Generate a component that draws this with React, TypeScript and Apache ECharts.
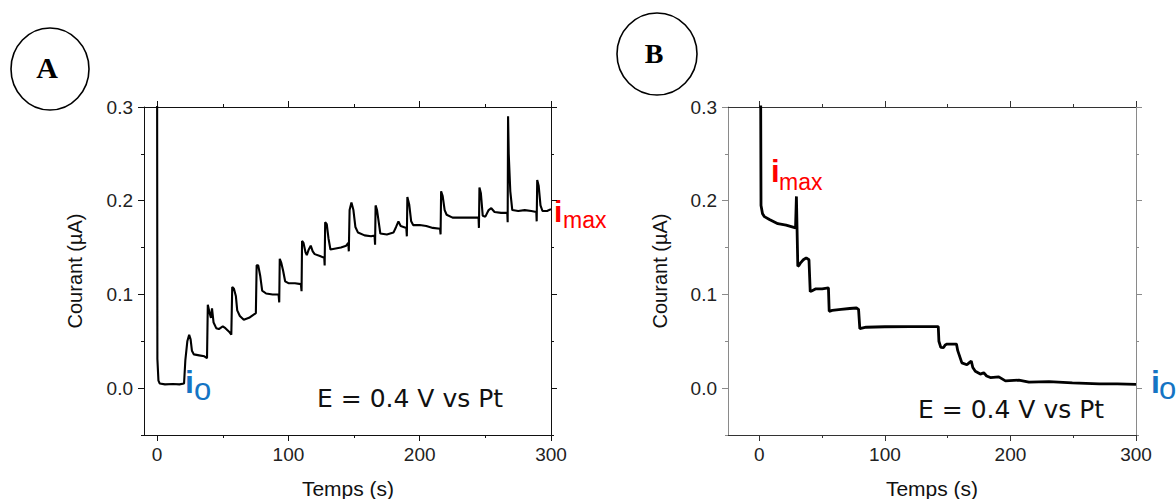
import React, { useEffect, useRef } from "react";
import * as echarts from "echarts";

// Panel A: current vs time (s), step increases
const timeA = [
  0, 0.2, 1, 2, 6, 12, 17, 20.5, 21.5, 23, 24.4, 25.5, 26.5, 28, 32, 36, 38, 38.6, 40, 41, 41.8, 43, 45, 47, 50, 52,
  55, 56.5, 57.2, 58.5, 60, 61, 63, 66, 70, 73, 75.2, 75.8, 77, 78.5, 80, 83, 88, 92.5, 93, 93.4, 94.5, 96, 97.5, 100,
  105, 109.5, 110, 110.4, 111.5, 113, 114, 115.5, 117, 118.5, 120, 124, 127.3, 127.6, 128, 129.2, 130.5, 132, 136, 140,
  144, 145.6, 146, 146.6, 148, 149.5, 151, 153, 158, 163, 165.6, 166, 166.4, 167.5, 169, 170, 175, 180, 182, 183.8,
  185.5, 189.8, 190.2, 190.6, 192, 193.5, 195, 200, 205, 210, 215.5, 215.9, 216.3, 217.5, 219, 220.5, 225, 235, 244.8,
  245.1, 245.5, 246.6, 248, 250, 252.5, 254.5, 257, 262, 266.7, 267, 267.3, 267.8, 269, 270.5, 275, 280, 285, 288.8,
  289.1, 289.5, 290.6, 292, 293.5, 297, 300,
];
const currentA = [
  0.31, 0.031, 0.008, 0.005, 0.004, 0.0045, 0.004, 0.005, 0.03, 0.05, 0.057, 0.052, 0.04, 0.036, 0.035, 0.034, 0.032,
  0.089, 0.08, 0.075, 0.085, 0.07, 0.064, 0.063, 0.066, 0.064, 0.06, 0.057, 0.108, 0.106, 0.098, 0.083, 0.077, 0.073,
  0.075, 0.078, 0.08, 0.131, 0.131, 0.12, 0.104, 0.101, 0.1, 0.1, 0.0915, 0.138, 0.134, 0.125, 0.114, 0.112, 0.112,
  0.111, 0.1035, 0.157, 0.155, 0.145, 0.142, 0.148, 0.152, 0.146, 0.143, 0.141, 0.139, 0.131, 0.177, 0.175, 0.16,
  0.148, 0.149, 0.15, 0.152, 0.155, 0.146, 0.19, 0.198, 0.19, 0.172, 0.166, 0.163, 0.162, 0.163, 0.153, 0.195, 0.19,
  0.175, 0.165, 0.164, 0.166, 0.172, 0.178, 0.173, 0.171, 0.162, 0.204, 0.196, 0.178, 0.174, 0.174, 0.173, 0.171, 0.17,
  0.164, 0.21, 0.205, 0.19, 0.185, 0.182, 0.182, 0.182, 0.171, 0.214, 0.208, 0.184, 0.183, 0.19, 0.192, 0.188, 0.187,
  0.187, 0.177, 0.29, 0.25, 0.21, 0.19, 0.189, 0.19, 0.189, 0.188, 0.178, 0.222, 0.216, 0.195, 0.189, 0.189, 0.191,
];

// Panel B: current vs time (s), step decreases
const timeB = [
  1, 1.3, 2.5, 4, 8, 14.7, 21.3, 28.8, 29.5, 30, 30.6, 31.5, 33, 35, 37.3, 39.5, 40.5, 42, 45, 50, 55, 55.6, 58, 65,
  72, 77.3, 79, 80, 85, 100, 120, 135, 142.5, 143, 144.5, 146.7, 148, 149.5, 157, 158, 161.3, 165.3, 167, 168.8, 170,
  172, 176, 178.7, 181, 184, 190.7, 196, 206.7, 214.7, 230.7, 249.3, 270.7, 285, 300,
];
const currentB = [
  0.32, 0.195, 0.186, 0.183, 0.18, 0.1755, 0.174, 0.171, 0.2046, 0.17, 0.13, 0.131, 0.134, 0.137, 0.139, 0.137, 0.103,
  0.104, 0.106, 0.106, 0.107, 0.082, 0.083, 0.084, 0.085, 0.0855, 0.084, 0.0635, 0.065, 0.0655, 0.0656, 0.0657, 0.0657,
  0.05, 0.0435, 0.0433, 0.046, 0.047, 0.047, 0.04, 0.027, 0.025, 0.027, 0.029, 0.022, 0.018, 0.015, 0.0165, 0.013,
  0.0113, 0.012, 0.0078, 0.0085, 0.0064, 0.007, 0.0057, 0.0046, 0.0045, 0.004,
];

const xMajorTicks = [0, 100, 200, 300];
const xMinorTicks = [50, 150, 250];
const yMajorTicks = [0, 0.1, 0.2, 0.3];
const yMinorTicks = [-0.05, 0.05, 0.15, 0.25];

const SANS = '"Liberation Sans", Arial, sans-serif';

function pairs(xs: number[], ys: number[]) {
  return xs.map((x, i) => [x, ys[i]]);
}

function xAxes(gridIndex: number, min: number, color: string) {
  const base: any = {
    type: "value",
    gridIndex,
    min,
    max: 300,
    splitLine: { show: false },
    minorTick: { show: false },
    axisLine: { show: true, onZero: false, lineStyle: { color, width: 1 } },
  };
  const major = { show: true, inside: false, length: 6, customValues: xMajorTicks, lineStyle: { color, width: 1 } };
  const minor = { show: true, inside: false, length: 3, customValues: xMinorTicks, lineStyle: { color, width: 1 } };
  return [
    {
      ...base,
      position: "bottom",
      axisTick: major,
      axisLabel: {
        show: true,
        customValues: xMajorTicks,
        margin: 10,
        fontSize: 19,
        fontFamily: SANS,
        color: "#222",
        formatter: (v: number) => String(Math.round(v)),
      },
    },
    { ...base, position: "top", axisTick: major, axisLabel: { show: false } },
    { ...base, position: "bottom", axisLine: { show: false, onZero: false }, axisTick: minor, axisLabel: { show: false } },
    { ...base, position: "top", axisLine: { show: false, onZero: false }, axisTick: minor, axisLabel: { show: false } },
  ];
}

function yAxes(gridIndex: number, color: string) {
  const base: any = {
    type: "value",
    gridIndex,
    min: -0.05,
    max: 0.3,
    splitLine: { show: false },
    minorTick: { show: false },
    axisLine: { show: true, onZero: false, lineStyle: { color, width: 1 } },
  };
  const major = { show: true, inside: false, length: 6, customValues: yMajorTicks, lineStyle: { color, width: 1 } };
  const minor = { show: true, inside: false, length: 3, customValues: yMinorTicks, lineStyle: { color, width: 1 } };
  return [
    {
      ...base,
      position: "left",
      axisTick: major,
      axisLabel: {
        show: true,
        customValues: yMajorTicks,
        margin: 11,
        fontSize: 19,
        fontFamily: SANS,
        color: "#222",
        formatter: (v: number) => v.toFixed(1),
      },
    },
    { ...base, position: "right", axisTick: major, axisLabel: { show: false } },
    { ...base, position: "left", axisLine: { show: false, onZero: false }, axisTick: minor, axisLabel: { show: false } },
    { ...base, position: "right", axisLine: { show: false, onZero: false }, axisTick: minor, axisLabel: { show: false } },
  ];
}

function txt(text: string, x: number, y: number, font: string, fill: string, align = "left", extra: any = {}) {
  return {
    type: "text",
    x,
    y,
    silent: true,
    ...extra,
    style: { text, font, fill, textAlign: align, textVerticalAlign: "middle" },
  };
}

function buildOption() {
  const blue = "#1474C4";
  const red = "#FF0000";
  return {
    animation: false,
    backgroundColor: "#ffffff",
    grid: [
      { left: 144, top: 107, width: 407, height: 328, containLabel: false, outerBoundsMode: "none" },
      { left: 728, top: 107, width: 408, height: 328, containLabel: false, outerBoundsMode: "none" },
    ],
    xAxis: [...xAxes(0, -10, "#111"), ...xAxes(1, -25, "#333")],
    yAxis: [...yAxes(0, "#111"), ...yAxes(1, "#8a8a8a")],
    series: [
      {
        type: "line",
        xAxisIndex: 0,
        yAxisIndex: 0,
        data: pairs(timeA, currentA),
        showSymbol: false,
        symbol: "none",
        clip: true,
        lineStyle: { color: "#000", width: 2.1 },
      },
      {
        type: "line",
        xAxisIndex: 4,
        yAxisIndex: 4,
        data: pairs(timeB, currentB),
        showSymbol: false,
        symbol: "none",
        clip: true,
        lineStyle: { color: "#000", width: 2.8 },
      },
    ],
    graphic: [
      { type: "ellipse", shape: { cx: 50, cy: 69, rx: 39, ry: 41 }, style: { fill: "none", stroke: "#000", lineWidth: 1.6 } },
      txt("A", 47, 67, 'bold 30px "Liberation Serif", "Times New Roman", serif', "#000", "center"),
      { type: "ellipse", shape: { cx: 657, cy: 54, rx: 40, ry: 41 }, style: { fill: "none", stroke: "#000", lineWidth: 1.6 } },
      txt("B", 654, 53, 'bold 28px "Liberation Serif", "Times New Roman", serif', "#000", "center"),

      txt("Courant (µA)", 75, 271, `20px ${SANS}`, "#111", "center", { rotation: Math.PI / 2 }),
      txt("Courant (µA)", 660, 271, `20px ${SANS}`, "#111", "center", { rotation: Math.PI / 2 }),
      txt("Temps (s)", 348, 488, `21px ${SANS}`, "#111", "center"),
      txt("Temps (s)", 932, 488, `21px ${SANS}`, "#111", "center"),

      txt("E = 0.4 V vs Pt", 317, 398.5, '25px "DejaVu Sans", sans-serif', "#111"),
      txt("E = 0.4 V vs Pt", 918, 409.5, '25px "DejaVu Sans", sans-serif', "#111"),

      txt("i", 554, 211, `bold 30px ${SANS}`, red),
      txt("max", 563, 220, `23px ${SANS}`, red),
      txt("i", 771, 171.5, `bold 31px ${SANS}`, red),
      txt("max", 779, 182, `23px ${SANS}`, red),

      txt("i", 185, 381.5, `bold 32px ${SANS}`, blue),
      txt("o", 194, 389, `31px ${SANS}`, blue),
      txt("i", 1151, 382, `bold 32px ${SANS}`, blue),
      txt("o", 1159, 388.5, `31px ${SANS}`, blue),
    ],
  };
}

export default function App() {
  const ref = useRef<HTMLDivElement>(null);
  useEffect(() => {
    if (!ref.current) return;
    const chart = echarts.init(ref.current, null, { renderer: "svg" });
    chart.setOption(buildOption() as any);
    return () => chart.dispose();
  }, []);
  return (
    <div
      ref={ref}
      style={{ position: "fixed", left: 0, top: 0, width: 1176, height: 499, background: "#fff" }}
    />
  );
}
